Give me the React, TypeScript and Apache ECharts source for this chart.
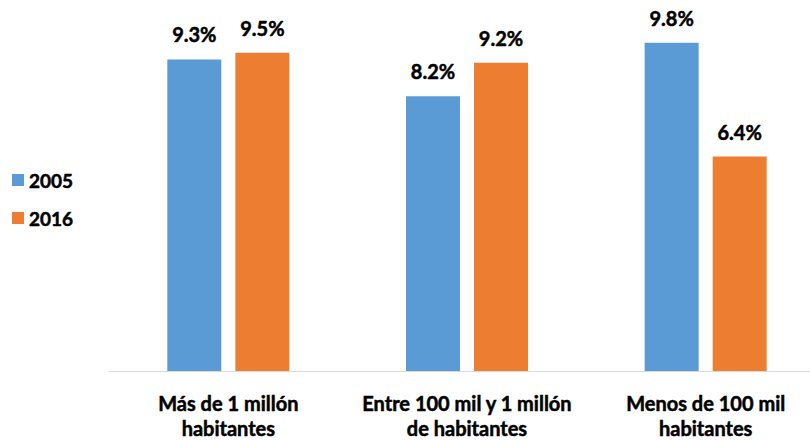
import React, { useEffect, useRef } from "react";
import * as echarts from "echarts";

const categories = [
  "Más de 1 millón\nhabitantes",
  "Entre 100 mil y 1 millón\nde habitantes",
  "Menos de 100 mil\nhabitantes",
];
const seriesNames = ["2005", "2016"];
const values2005 = [9.3, 8.2, 9.8];
const values2016 = [9.5, 9.2, 6.4];

export default function App() {
  const ref = useRef<HTMLDivElement>(null);
  useEffect(() => {
    if (!ref.current) return;
    const chart = echarts.init(ref.current, null, { renderer: "svg" });
    const font = "Lato, 'Open Sans', sans-serif";
    const thick = { textBorderColor: "#000", textBorderWidth: 0.5 };
    const label = {
      show: true,
      position: "top" as const,
      distance: 15,
      formatter: (p: any) => p.value.toFixed(1) + "%",
      fontFamily: font,
      fontWeight: "bold" as const,
      fontSize: 20,
      color: "#000",
      ...thick,
    };
    chart.setOption({
      animation: false,
      backgroundColor: "#fff",
      textStyle: { fontFamily: font },
      legend: {
        orient: "vertical",
        left: 7,
        top: 165,
        itemWidth: 12,
        itemHeight: 12,
        itemGap: 18,
        icon: "rect",
        data: seriesNames,
        textStyle: {
          fontFamily: font,
          fontWeight: "bold",
          fontSize: 19,
          color: "#000",
          lineHeight: 20,
          ...thick,
        },
      },
      grid: { left: 109, right: 0, top: 36, bottom: 63 },
      xAxis: {
        type: "category",
        data: categories,
        axisLine: { lineStyle: { color: "#D9D9D9", width: 1 } },
        axisTick: { show: false },
        axisLabel: {
          interval: 0,
          margin: 19,
          fontFamily: font,
          fontWeight: "bold",
          fontSize: 20,
          lineHeight: 25,
          color: "#000",
          ...thick,
        },
      },
      yAxis: {
        type: "value",
        min: 0,
        max: 10,
        show: false,
        splitLine: { show: false },
      },
      series: [
        {
          name: seriesNames[0],
          type: "bar",
          data: values2005,
          barWidth: 54,
          barGap: "26%",
          itemStyle: { color: "#5B9BD5" },
          label,
        },
        {
          name: seriesNames[1],
          type: "bar",
          data: values2016,
          barWidth: 54,
          barGap: "26%",
          itemStyle: { color: "#ED7D31" },
          label,
        },
      ],
    });
    return () => chart.dispose();
  }, []);
  return <div ref={ref} style={{ width: 825, height: 440, position: "fixed", left: 0, top: 0 }} />;
}
